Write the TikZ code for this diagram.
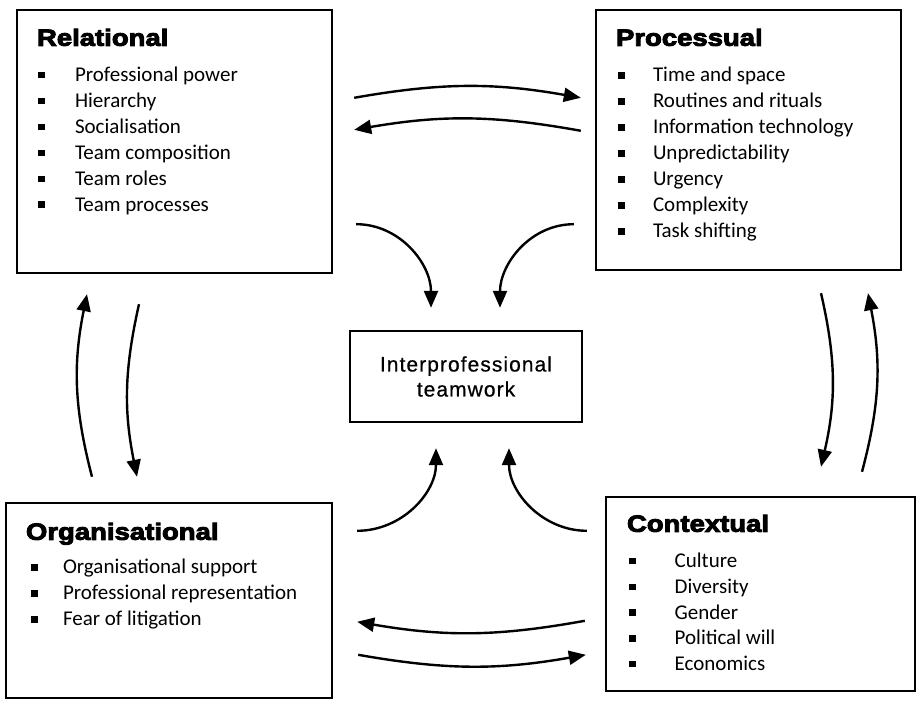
\documentclass[tikz,border=0pt]{standalone}
\usepackage{fontspec}
\setmainfont{Carlito}
\newfontfamily\headfont{Liberation Sans}[FakeBold=4,FakeStretch=1.17]
\newfontfamily\teamfont{Liberation Sans}[LetterSpace=5,FakeBold=0.6]
\usetikzlibrary{arrows.meta}
\tikzstyle{factor} = [rectangle, draw=black, line width=2.4pt, inner sep=0pt]
\tikzstyle{heading} = [anchor=base west, inner sep=0pt, font=\headfont\bfseries\fontsize{23.5}{28}\selectfont]
\tikzstyle{item} = [anchor=base west, inner sep=0pt, font=\fontsize{21}{25}\selectfont]
\tikzstyle{arrow} = [line width=2.4pt, -{Triangle[length=17pt,width=14pt]}]
\newcommand{\sq}{\rule[3.2pt]{6.5pt}{6.5pt}}

\begin{document}
\begin{tikzpicture}[x=1pt,y=1pt]
\useasboundingbox (0,0) rectangle (922,701);
\node (rel) [factor, minimum width=315pt, minimum height=263pt] at (174.5,559.5) {};
\node (proc) [factor, minimum width=305pt, minimum height=260pt] at (748.5,561) {};
\node (org) [factor, minimum width=326pt, minimum height=195pt] at (169,100.5) {};
\node (ctx) [factor, minimum width=309pt, minimum height=194pt] at (760.5,107) {};
\node (team) [factor, minimum width=232pt, minimum height=91pt, align=center, font=\teamfont\fontsize{21}{25}\selectfont] at (466,324.5) {Interprofessional\\teamwork};
\node (relhead) [heading] at ([shift={(21,-37)}]rel.north west) {Relational};
\node (prochead) [heading] at ([shift={(21,-37)}]proc.north west) {Processual};
\node (orghead) [heading] at ([shift={(21,-38)}]org.north west) {Organisational};
\node (ctxhead) [heading] at ([shift={(22,-36)}]ctx.north west) {Contextual};
\foreach \txt [count=\i] in {Professional power, Hierarchy, Socialisation, Team composition, Team roles, Team processes}
  \node (rel-\i) [item] at ([shift={(22,-47-25.9*\i)}]rel.north west) {\sq\hspace{30.5pt}\txt};
\foreach \txt [count=\i] in {Time and space, Routines and rituals, Information technology, Unpredictability, Urgency, Complexity, Task shifting}
  \node (proc-\i) [item] at ([shift={(23,-47-26*\i)}]proc.north west) {\sq\hspace{28.5pt}\txt};
\foreach \txt [count=\i] in {Organisational support, Professional representation, Fear of litigation}
  \node (org-\i) [item] at ([shift={(26,-46-26*\i)}]org.north west) {\sq\hspace{25.5pt}\txt};
\foreach \txt [count=\i] in {Culture, Diversity, Gender, Political will, Economics}
  \node (ctx-\i) [item] at ([shift={(24,-46-25.75*\i)}]ctx.north west) {\sq\hspace{39.2pt}\txt};
\draw [arrow] ([shift={(21,-89)}]rel.north east) to[bend left=10] ([shift={(-14,-89)}]proc.north west);
\draw [arrow] ([shift={(-14,-122)}]proc.north west) to[bend right=10] ([shift={(21,-121)}]rel.north east);
\draw [arrow] ([shift={(23,50)}]rel.south east) to[out=0,in=90] ([shift={(-35,22)}]team.north);
\draw [arrow] ([shift={(-21,47)}]proc.south west) to[out=180,in=90] ([shift={(34,22)}]team.north);
\draw [arrow] ([shift={(24,-29)}]org.north east) to[out=0,in=-90] ([shift={(-30,-25)}]team.south);
\draw [arrow] ([shift={(-18,-35)}]ctx.north west) to[out=180,in=-90] ([shift={(43,-25)}]team.south);
\draw [arrow] ([shift={(-20,-125)}]ctx.north west) to[bend left=10] ([shift={(24,-120)}]org.north east);
\draw [arrow] ([shift={(25,-153)}]org.north east) to[bend right=10] ([shift={(-19,-159)}]ctx.north west);
\draw [arrow] ([shift={(-77,25)}]org.north) to[bend left=13] ([shift={(-87.5,-20)}]rel.south);
\draw [arrow] ([shift={(-35.5,-30)}]rel.south) to[bend right=12] ([shift={(-32,25)}]org.north);
\draw [arrow] ([shift={(72.5,-22)}]proc.south) to[bend left=13] ([shift={(60.5,29)}]ctx.north);
\draw [arrow] ([shift={(101.5,24)}]ctx.north) to[bend right=13] ([shift={(119.5,-22)}]proc.south);
\end{tikzpicture}
\end{document}
